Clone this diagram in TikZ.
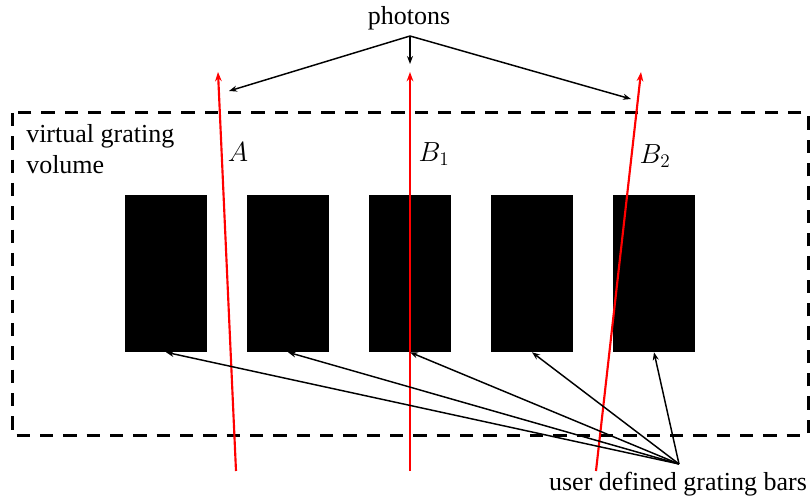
\documentclass[tikz,border=0pt]{standalone}
\usepackage{fontspec}
\setmainfont{Liberation Serif}
\usetikzlibrary{arrows.meta}

\tikzset{
  bar/.style={fill=black, minimum width=61.5pt, minimum height=117.75pt, inner sep=0pt},
  ray/.style={red, line width=1.6pt, -{Stealth[length=7pt,width=5pt]}},
  pointer/.style={line width=1.1pt, -{Stealth[length=6pt,width=4.5pt]}},
  lbl/.style={font=\fontsize{19.5}{23.5}\selectfont}
}

\begin{document}
\begin{tikzpicture}[x=0.75pt, y=-0.75pt]
  \useasboundingbox (0,0) rectangle (811,499);
  % virtual grating volume
  \draw[line width=2.25pt, dash pattern=on 10pt off 7.5pt] (12,113) rectangle (808,435);
  \node[lbl, align=left, anchor=north west, inner sep=0pt] (vol) at (26,124) {virtual grating\\volume};
  % grating bars
  \foreach \i/\x in {1/166, 2/288, 3/410, 4/532, 5/654}
    \node[bar] (bar\i) at (\x,273.5) {};
  % photon tracks
  \coordinate (a0) at (236,471);
  \coordinate (a1) at (218,72);
  \coordinate (b0) at (410,471);
  \coordinate (b1) at (410,72);
  \coordinate (c0) at (596,471);
  \coordinate (c1) at (641,72);
  \draw[ray] (a0) -- (a1);
  \draw[ray] (b0) -- (b1);
  \draw[ray] (c0) -- (c1);
  \node[lbl] (labA) at (238,152) {$A$};
  \node[lbl] (labB1) at (434,154) {$B_1$};
  \node[lbl] (labB2) at (655,156) {$B_2$};
  % photons label
  \node[lbl] (photons) at (409,18) {photons};
  \coordinate (pfork) at (410,36);
  \coordinate (pa) at (229,91);
  \coordinate (pb) at (410,64);
  \coordinate (pc) at (631,99);
  \draw[pointer] (pfork) -- (pa);
  \draw[pointer] (pfork) -- (pb);
  \draw[pointer] (pfork) -- (pc);
  % user defined bars label
  \node[lbl] (user) at (678,484) {user defined grating bars};
  \coordinate (ufork) at (679,464);
  \foreach \i in {1,...,5}
    \draw[pointer] (ufork) -- (bar\i.south);
\end{tikzpicture}
\end{document}
